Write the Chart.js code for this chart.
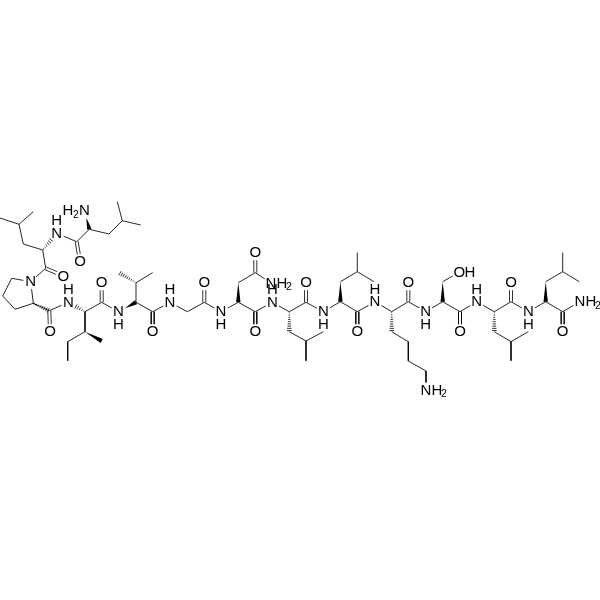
<!DOCTYPE html>
<html>
<head>
<meta charset="utf-8">
<style>html,body{margin:0;padding:0;background:#fff}canvas{display:block}</style>
<script src="https://cdn.jsdelivr.net/npm/chart.js@4/dist/chart.umd.min.js"></script>
</head>
<body>
<canvas id="c" width="600" height="600"></canvas>
<script>
// Polylines of plain bonds: x,y,x,y,...
const backbone = [89.3,229.3,76.7,241.7,56.7,233.3];
const backbone2 = [42.7,250,45.7,268.3,30.7,281.7];
const backbone3 = [33.3,303.3,49.3,310.7,68.3,302.3];
const backbone4 = [85,311.7,101.7,302.3,118.3,311.7];
const backbone5 = [136,302.3,152.7,311.7,170,302.3,187.3,311.7,204.3,302.3,221,311.7,238.3,302.3,255.3,311.7,272.3,302.3,289.3,311.7,306,302.3,323.3,311.7,340.4,301.7,357.3,311.7,375,301.7,391.7,311.7,408.3,301.7,425.7,311.7,442.7,301.7,460,311.7,476.7,301.7,494.3,311.7,511,301.7,528.3,311.7,545.7,301.7,562.7,311.7,580,301.7];
const sideLeu1 = [89.3,229.3,109,234,122.3,220.7,117.3,201.7];
const sideLeu1b = [122.3,220.7,140.7,225];
const sideLeu2 = [42.7,250,23.3,244,19,224.3,0,218];
const sideLeu2b = [19,224.3,33.3,211.7];
const proRing = [30.7,281.7,11.7,278.3,2.7,296,15,309.3,33.3,303.3,30.7,281.7];
const sideIle = [85,311.7,85,331.7,67.7,341.7,67.7,360.7];
const sideVal = [136,302.3,136,282.7,152.7,272.7];
const sideAsn = [238.3,282.7,255.3,272.7,271,283];
const sideLeu3 = [289.3,331.7,306,341,323.3,331.7];
const sideLeu3b = [306,341,306,360.7];
const sideLeu4 = [340.4,281.7,357.3,271.7,357.3,252.7];
const sideLeu4b = [357.3,271.7,374,281.7];
const sideLys = [391.7,331.7,408.3,341.7,408.3,361,426,371,426,390];
const sideSer = [442.7,281.7,459.3,272.3];
const sideLeu5 = [494.3,331.7,511,341.7,528.3,331.7];
const sideLeu5b = [511,341.7,511,360.7];
const sideLeu6 = [545.7,281.7,562.7,271.7,562.7,252.7];
const sideLeu6b = [562.7,271.7,579.3,281.7];
const plainBonds = [backbone,backbone2,backbone3,backbone4,backbone5,sideLeu1,sideLeu1b,sideLeu2,sideLeu2b,proRing,sideIle,sideVal,sideAsn,sideLeu3,sideLeu3b,sideLeu4,sideLeu4b,sideLys,sideSer,sideLeu5,sideLeu5b,sideLeu6,sideLeu6b];

// C=O double bonds: carbon x,y then oxygen x,y
const carbonylBonds = [
 [76.7,241.7,80,261.7],[45.7,268.3,63.3,276],[49.3,310.7,50,331.7],[101.7,302.3,101.7,282.7],
 [152.7,311.7,152.7,331.7],[204.3,302.3,204.3,282.7],[255.3,272.7,255.3,252.7],[255.3,311.7,255.3,331.7],
 [306,302.3,306,282.7],[357.3,311.7,357.3,331.7],[408.3,301.7,408.3,282.7],[460,311.7,460,331.7],
 [511,301.7,511,282.7],[562.7,311.7,562.7,331.7]
];
// Stereo bonds: narrow end x,y then wide end x,y
const wedgeBonds = [
 [84.5,210.5,89.3,229.3],[118.3,311.7,136,302.3],[85,331.7,101.7,341],[238.3,282.7,238.3,302.3],
 [340.4,281.7,340.4,301.7],[442.7,281.7,442.7,301.7],[545.7,281.7,545.7,301.7]
];
const hashBonds = [
 [42.7,250,56.7,233.3],[33.3,303.3,49.3,310.7],[85,311.7,68.3,302.3],[136,282.7,119,272.7],
 [289.3,311.7,289.3,331.7],[391.7,311.7,391.7,331.7],[494.3,311.7,494.3,331.7]
];
// Atom labels
const oxygens = [[80,261.7],[63.3,276],[50,331.7],[101.7,282.7],[152.7,331.7],[204.3,282.7],[255.3,252.7],[255.3,331.7],[306,282.7],[357.3,331.7],[408.3,282.7],[460,331.7],[511,282.7],[562.7,331.7],[459.3,272.3]];
const nitrogenBare = [[30.7,281.7]];
const nitrogenHUp = [[56.7,233.3],[68.3,302.3],[170,302.3],[272.3,302.3],[375,301.7],[476.7,301.7]];
const nitrogenHDown = [[118.3,311.7],[221,311.7],[323.3,311.7],[425.7,311.7],[528.3,311.7]];
const aminesRight = [[271,283],[426,390],[580,301.7]];
const amineLeft = [[84.5,210.5]];
const hydroxylH = [[470,272.3]];
</script>
<script>
const labels=[]; const keep=[];
const add=(t,x,y)=>labels.push({t,x,y});
oxygens.forEach(p=>{add('O',p[0],p[1]);keep.push(p);});
nitrogenBare.forEach(p=>{add('N',p[0],p[1]);keep.push(p);});
nitrogenHUp.forEach(p=>{add('N',p[0],p[1]);add('H',p[0],p[1]-12.5);keep.push(p);});
nitrogenHDown.forEach(p=>{add('N',p[0],p[1]);add('H',p[0],p[1]+12.2);keep.push(p);});
aminesRight.forEach(p=>{add('N',p[0],p[1]);add('H',p[0]+10.8,p[1]);add('2',p[0]+18,p[1]+3.8);keep.push(p);});
amineLeft.forEach(p=>{add('N',p[0],p[1]);add('H',p[0]-16.5,p[1]);add('2',p[0]-8.5,p[1]+3.8);keep.push(p);});
hydroxylH.forEach(p=>add('H',p[0],p[1]));
const GAP = 7.5;
function clipEnd(a,b){
  const hit = keep.some(k=>Math.hypot(k[0]-a[0],k[1]-a[1])<1.5);
  if(!hit) return a;
  const d=Math.hypot(b[0]-a[0],b[1]-a[1]);
  return [a[0]+(b[0]-a[0])*GAP/d,a[1]+(b[1]-a[1])*GAP/d];
}
function clipSeg(x1,y1,x2,y2){
  const p=clipEnd([x1,y1],[x2,y2]), q=clipEnd([x2,y2],[x1,y1]);
  return [p[0],p[1],q[0],q[1]];
}
const gap={x:NaN,y:NaN};
const plainPts=[];
plainBonds.forEach(l=>{
  for(let i=0;i+3<l.length;i+=2){
    const s=clipSeg(l[i],l[i+1],l[i+2],l[i+3]);
    plainPts.push({x:s[0],y:s[1]},{x:s[2],y:s[3]},gap);
  }
});
const dblPts=[];
carbonylBonds.forEach(b=>{
  const s=clipSeg(b[0],b[1],b[2],b[3]);
  const d=Math.hypot(s[2]-s[0],s[3]-s[1]);
  const ox=-(s[3]-s[1])/d*1.5, oy=(s[2]-s[0])/d*1.5;
  [1,-1].forEach(k=>{
    dblPts.push({x:s[0]+k*ox,y:s[1]+k*oy},{x:s[2]+k*ox,y:s[3]+k*oy},gap);
  });
});
const hashPts=[];
hashBonds.forEach(b=>{
  const s=clipSeg(b[0],b[1],b[2],b[3]);
  const dx=s[2]-s[0],dy=s[3]-s[1],d=Math.hypot(dx,dy);
  const nx=-dy/d,ny=dx/d,n=Math.max(4,Math.round(d/2.2));
  for(let i=0;i<n;i++){
    const t=(i+0.5)/n, w=0.3+t*2.2;
    const cx=s[0]+dx*t, cy=s[1]+dy*t;
    hashPts.push({x:cx-nx*w,y:cy-ny*w},{x:cx+nx*w,y:cy+ny*w},gap);
  }
});
const stereoAndText={
  id:'stereoAndText',
  afterDatasetsDraw(chart){
    const {ctx,scales:{x,y}}=chart;
    ctx.save();
    ctx.fillStyle='#000';
    wedgeBonds.forEach(b=>{
      const s=clipSeg(b[0],b[1],b[2],b[3]);
      const ax=x.getPixelForValue(s[0]),ay=y.getPixelForValue(s[1]);
      const bx=x.getPixelForValue(s[2]),by=y.getPixelForValue(s[3]);
      const d=Math.hypot(bx-ax,by-ay),nx=-(by-ay)/d*2.2,ny=(bx-ax)/d*2.2;
      ctx.beginPath();ctx.moveTo(ax,ay);ctx.lineTo(bx+nx,by+ny);ctx.lineTo(bx-nx,by-ny);ctx.closePath();ctx.fill();
    });
    ctx.textAlign='center';ctx.textBaseline='middle';
    labels.forEach(l=>{
      ctx.font=(l.t==='2'?'10.5px':'15px')+' "Liberation Sans", Arial, sans-serif';
      ctx.fillText(l.t,x.getPixelForValue(l.x),y.getPixelForValue(l.y)+0.5);
    });
    ctx.restore();
  }
};
const lineDs=(data,w)=>({data,showLine:true,spanGaps:false,borderColor:'#000',borderWidth:w,pointRadius:0,tension:0,fill:false,borderCapStyle:'butt'});
new Chart(document.getElementById('c'),{
  type:'scatter',
  data:{datasets:[lineDs(plainPts,0.85),lineDs(dblPts,0.8),lineDs(hashPts,0.8)]},
  options:{
    responsive:false,animation:false,devicePixelRatio:1,
    layout:{padding:0},
    plugins:{legend:{display:false},tooltip:{enabled:false},title:{display:false}},
    scales:{
      x:{type:'linear',min:0,max:600,display:false},
      y:{type:'linear',min:0,max:600,reverse:true,display:false}
    }
  },
  plugins:[stereoAndText]
});
</script>
</body>
</html>
